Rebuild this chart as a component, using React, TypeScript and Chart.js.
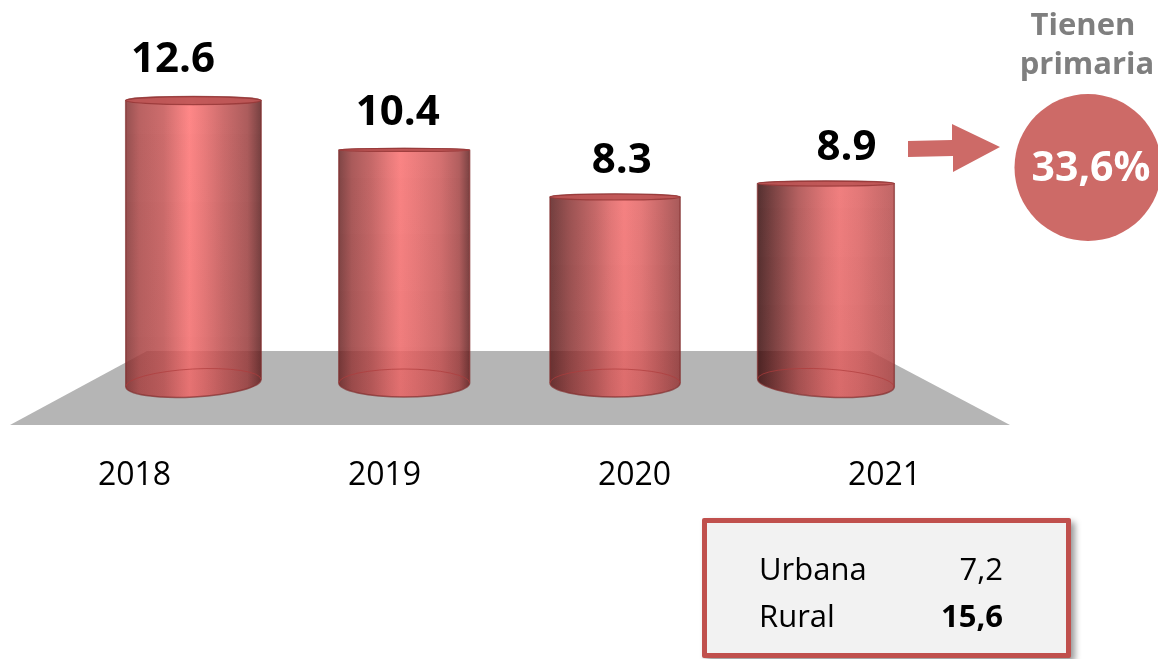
import React, { useEffect, useRef } from "react";
import { Chart, registerables } from "chart.js";

Chart.register(...registerables);

const categories = ["2018", "2019", "2020", "2021"];
const tienenPrimaria = [12.6, 10.4, 8.3, 8.9];
const highlightValue = "33,6%";
const highlightTitle = ["Tienen", "primaria"];
const areaLabels = ["Urbana", "Rural"];
const areaValues = ["7,2", "15,6"];

// cylinder appearance, by bar
const widthRatio = [1.02, 0.985, 0.98, 1.03];
const topRadius = [4, 1.5, 3, 2.5];
const baseTilt = [-0.055, 0, 0, 0.06];
const labelShift = [-20.5, -6.5, 6.7, 20.5];
const labelLift = [41, 37, 36, 36];
const shading: [number, number][][] = [
  [[0, 150], [0.1, 185], [0.28, 205], [0.38, 232], [0.47, 255], [0.58, 235], [0.72, 205], [0.9, 172], [1, 118]],
  [[0, 128], [0.1, 170], [0.25, 198], [0.38, 230], [0.47, 250], [0.6, 235], [0.78, 212], [0.92, 178], [1, 122]],
  [[0, 115], [0.15, 155], [0.35, 198], [0.47, 228], [0.57, 245], [0.7, 230], [0.85, 200], [1, 168]],
  [[0, 85], [0.12, 125], [0.3, 182], [0.5, 225], [0.6, 240], [0.74, 228], [0.85, 212], [1, 192]],
];

const ALPHA = 0.83;
function shade(red: number): string {
  // colour as seen over white, turned into its translucent source
  const g = red < 200 ? red * 0.5 + 6 : red * 0.53;
  const un = (v: number) => Math.max(0, Math.round((v - (1 - ALPHA) * 255) / ALPHA));
  return `rgba(${un(red)},${un(g)},${un(g)},${ALPHA})`;
}

const cylinders = {
  id: "cylinders",
  beforeDatasetsDraw(chart: any) {
    const { ctx } = chart;
    ctx.save();
    ctx.fillStyle = "#b5b5b5";
    ctx.beginPath();
    ctx.moveTo(147, 351);
    ctx.lineTo(870, 351);
    ctx.lineTo(1010, 425);
    ctx.lineTo(10, 425);
    ctx.closePath();
    ctx.fill();
    ctx.restore();
  },
  afterDatasetsDraw(chart: any) {
    const { ctx } = chart;
    const meta = chart.getDatasetMeta(0);
    meta.data.forEach((el: any, i: number) => {
      const { x: cx, y: t, base: b } = el.getProps(["x", "y", "base"]);
      const w = (el.width * widthRatio[i]) / 2;
      const rt = topRadius[i];
      const ry = 14;
      const rot = baseTilt[i];
      const body = () => {
        ctx.beginPath();
        ctx.ellipse(cx, t, w, rt, 0, Math.PI, Math.PI * 2, false);
        ctx.lineTo(cx + w, b + w * Math.sin(rot));
        ctx.ellipse(cx, b, w, ry, rot, 0, Math.PI, false);
        ctx.closePath();
      };
      ctx.save();
      const h = ctx.createLinearGradient(cx - w, 0, cx + w, 0);
      shading[i].forEach(([p, r]) => h.addColorStop(p, shade(r)));
      body();
      ctx.fillStyle = h;
      ctx.fill();
      const v = ctx.createLinearGradient(0, t, 0, b + ry);
      v.addColorStop(0, "rgba(120,40,40,0)");
      v.addColorStop(1, "rgba(120,40,40,0.1)");
      ctx.fillStyle = v;
      ctx.fill();
      // silhouette
      ctx.lineWidth = 1.5;
      ctx.strokeStyle = "rgba(130,45,45,0.7)";
      ctx.stroke();
      // inner base rim
      ctx.beginPath();
      ctx.ellipse(cx, b, w, ry, rot, Math.PI, Math.PI * 2, false);
      ctx.lineWidth = 1;
      ctx.strokeStyle = "rgba(175,60,60,0.7)";
      ctx.stroke();
      // top rim
      ctx.beginPath();
      ctx.ellipse(cx, t, w, rt, 0, 0, Math.PI * 2);
      ctx.fillStyle = "rgba(190,85,85,0.9)";
      ctx.fill();
      ctx.lineWidth = 1.2;
      ctx.strokeStyle = "rgba(150,55,55,0.85)";
      ctx.stroke();
      // value label
      ctx.fillStyle = "#000";
      ctx.font = 'bold 42px "Open Sans"';
      ctx.textAlign = "center";
      ctx.textBaseline = "middle";
      ctx.fillText(String(tienenPrimaria[i]), cx + labelShift[i], t - labelLift[i]);
      ctx.restore();
    });
  },
};

export default function App() {
  const ref = useRef<HTMLCanvasElement>(null);
  useEffect(() => {
    const chart = new Chart(ref.current!, {
      type: "bar",
      data: {
        labels: categories,
        datasets: [
          {
            label: "Tienen primaria",
            data: tienenPrimaria,
            xAxisID: "x",
            yAxisID: "y",
            backgroundColor: "rgba(0,0,0,0)",
            borderWidth: 0,
            barPercentage: 0.63,
            categoryPercentage: 1,
          },
        ],
      },
      options: {
        responsive: false,
        animation: false,
        layout: { padding: { left: 88, right: 226.7, top: 2, bottom: 0 } },
        plugins: { legend: { display: false }, tooltip: { enabled: false } },
        scales: {
          x: { type: "category", display: false },
          y: { display: false, min: 0, max: 17, grid: { display: false } },
          years: {
            type: "linear",
            position: "bottom",
            offset: false,
            min: 2017.814,
            max: 2021.187,
            grid: { display: false, drawTicks: false, offset: false },
            border: { display: false },
            afterFit(scale: any) {
              scale.height = 276;
            },
            ticks: {
              stepSize: 1,
              includeBounds: false,
              autoSkip: false,
              maxRotation: 0,
              padding: 74,
              color: "#000",
              font: { family: "Open Sans", size: 32 },
              callback: (v: any) => String(v),
            },
          },
        },
      } as any,
      plugins: [cylinders],
    });
    return () => chart.destroy();
  }, []);

  const sans = '"Open Sans", sans-serif';
  return (
    <div style={{ position: "absolute", left: 0, top: 0, width: 1158, height: 659, overflow: "hidden", background: "#fff", fontFamily: sans }}>
      <canvas ref={ref} width={1158} height={659} style={{ position: "absolute", left: 0, top: 0, display: "block" }} />
      <svg width={1158} height={659} style={{ position: "absolute", left: 0, top: 0 }}>
        <polygon points="908,141 952,140 952,124 1000,147 953,172 953,156 908,157" fill="#cd6a67" />
        <circle cx={1088} cy={167.5} r={73.5} fill="#cd6a67" />
      </svg>
      <div style={{ position: "absolute", left: 1004, top: 4, width: 160, textAlign: "center", color: "#7f7f7f", fontWeight: 700, fontSize: 31, lineHeight: "39px" }}>
        {highlightTitle.map((t, i) => (
          <div key={t} style={{ position: "relative", left: i === 1 ? 3 : -1 }}>{t}</div>
        ))}
      </div>
      <div style={{ position: "absolute", left: 1011, top: 138, width: 160, textAlign: "center", color: "#fff", fontWeight: 700, fontSize: 41, lineHeight: "54px" }}>
        {highlightValue}
      </div>
      <div
        style={{
          position: "absolute",
          left: 702,
          top: 518,
          width: 369,
          height: 140,
          boxSizing: "border-box",
          border: "5px solid #c0504d",
          borderRadius: 2,
          background: "#f2f2f2",
          boxShadow: "4px 4px 6px rgba(0,0,0,0.4)",
        }}
      />
      {areaLabels.map((t, i) => (
        <div key={t} style={{ position: "absolute", left: 759, top: 547 + i * 47, width: 244, display: "flex", justifyContent: "space-between", fontSize: 31, lineHeight: "42px", color: "#000" }}>
          <span>{t}</span>
          <span style={{ fontWeight: i === 1 ? 700 : 400 }}>{areaValues[i]}</span>
        </div>
      ))}
    </div>
  );
}
